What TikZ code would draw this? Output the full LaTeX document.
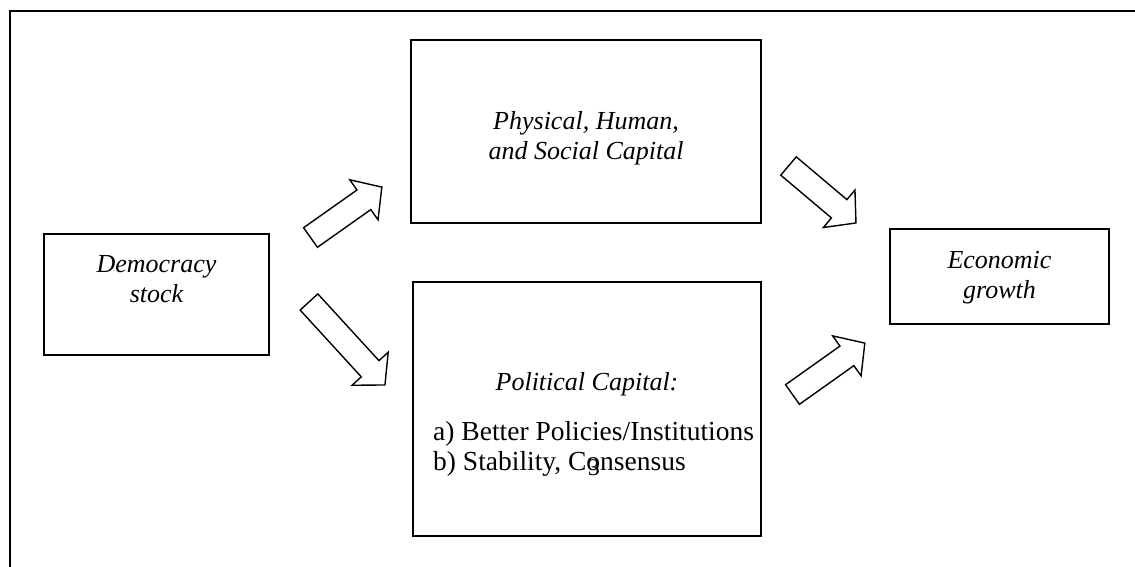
\documentclass[tikz,border=0pt]{standalone}
\usepackage{fontspec}
\setmainfont{Liberation Serif}
\usetikzlibrary{calc}
\tikzset{
  box/.style={draw, line width=1.7pt, rectangle, inner sep=0pt},
  lbl/.style={font=\fontsize{26}{30}\selectfont\itshape, align=center},
  plain/.style={font=\fontsize{27.5}{30}\selectfont, align=left},
  barrow/.style={draw, line width=1.4pt, fill=white, line join=miter},
  frame/.style={line width=1.8pt}
}
\newcommand\blockarrow[2]{%
  \draw[barrow] let \p1=($(#2)-(#1)$), \n1={atan2(\y1,\x1)}, \n2={veclen(\x1,\y1)} in
    [shift={(#1)}, rotate=\n1]
    (0,-12) -- (\n2-22,-12) -- (\n2-22,-24.5) -- (\n2,0) -- (\n2-22,24.5) -- (\n2-22,12) -- (0,12) -- cycle;}
\newcommand\straythree{\rlap{\hspace{1.5pt}\raisebox{-5pt}{\fontsize{24}{26}\selectfont 3}}}
\begin{document}
\begin{tikzpicture}[x=1pt,y=-1pt]
\useasboundingbox (0,0) rectangle (1135,567);
\draw[frame] (10,567) -- (10,11) -- (1135,11);
% boxes
\node[box, minimum width=225pt, minimum height=121pt] (dem) at (156.5,294.5) {};
\node[box, minimum width=350pt, minimum height=183pt] (phys) at (586,131.5) {};
\node[box, minimum width=348pt, minimum height=254pt] (pol) at (587,409) {};
\node[box, minimum width=219pt, minimum height=95pt] (eco) at (999.5,276.5) {};
% texts
\node[lbl, anchor=base] (demt) at (156.5,302) {Democracy\\stock};
\node[lbl, anchor=base] (physt) at (586,160) {Physical, Human,\\and Social Capital};
\node[lbl, anchor=base] (ecot) at (999.5,298) {Economic\\growth};
\node[lbl, anchor=base] (polt) at (587,390) {Political Capital:};
\node[plain, anchor=base west, inner sep=0pt] (pollist) at (433,470) {a) Better Policies/Institutions\\b) Stability, C\straythree onsensus};
% arrow end points
\coordinate (a1s) at (310.5,237.5); \coordinate (a1e) at (382,187);
\coordinate (a2s) at (309,302);   \coordinate (a2e) at (385,385);
\coordinate (a3s) at (788.5,166); \coordinate (a3e) at (856,223);
\coordinate (a4s) at (792.5,394.5); \coordinate (a4e) at (865,343);
\blockarrow{a1s}{a1e}
\blockarrow{a2s}{a2e}
\blockarrow{a3s}{a3e}
\blockarrow{a4s}{a4e}
\end{tikzpicture}
\end{document}
